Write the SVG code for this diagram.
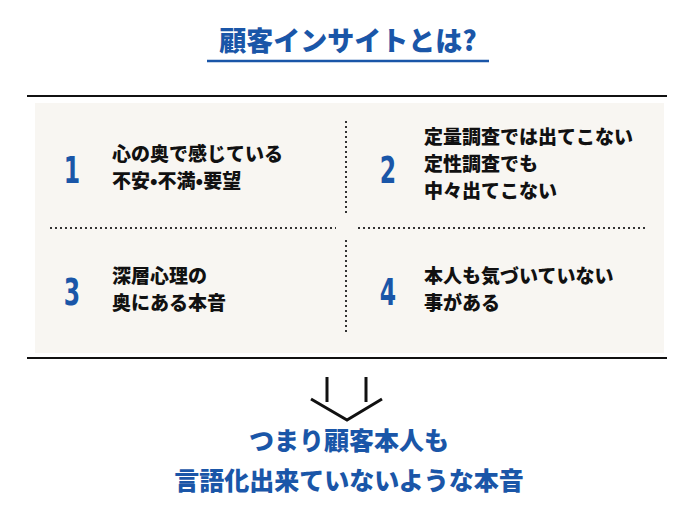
<svg xmlns="http://www.w3.org/2000/svg" width="700" height="514" viewBox="0 0 700 514">
<style>
.t{font-family:"Noto Sans CJK JP",sans-serif;font-weight:900;font-size:19px;fill:#111}
.n{font-family:"DejaVu Sans",sans-serif;font-weight:bold;font-size:38px;fill:#1a56a8;text-anchor:middle}
.b{font-family:"Noto Sans CJK JP",sans-serif;font-weight:900;fill:#1a56a8;text-anchor:middle}
.d{stroke:#333;stroke-width:2;stroke-dasharray:2 3}
</style>
<rect width="700" height="514" fill="#fff"/>
<text class="b" x="348" y="51" font-size="27">顧客インサイトとは?</text>
<line x1="207" y1="61" x2="489" y2="61" stroke="#1a56a8" stroke-width="2.5"/>
<rect x="35" y="103" width="629" height="250" fill="#f8f6f2"/>
<line x1="27" y1="96" x2="667" y2="96" stroke="#111" stroke-width="2"/>
<line x1="27" y1="358" x2="667" y2="358" stroke="#111" stroke-width="2"/>
<g id="connectors">
<line class="d" x1="346" y1="121" x2="346" y2="215"/>
<line class="d" x1="346" y1="240" x2="346" y2="334"/>
<line class="d" x1="50" y1="228" x2="336" y2="228"/>
<line class="d" x1="358" y1="228" x2="646" y2="228"/>
<g fill="none" stroke="#111" stroke-width="3">
<line x1="327" y1="377" x2="327" y2="402"/>
<line x1="366" y1="377" x2="366" y2="402"/>
<polyline points="311,399 347,420 382,399"/>
</g>
</g>
<g id="n1"><text class="n" transform="translate(72 183) scale(0.62 1)">1</text><text class="t" x="112" y="161">心の奥で感じている</text><text class="t" x="112" y="188">不安•不満•要望</text></g>
<g id="n2"><text class="n" transform="translate(388 183) scale(0.62 1)">2</text><text class="t" x="424" y="144">定量調査では出てこない</text><text class="t" x="424" y="171">定性調査でも</text><text class="t" x="424" y="198">中々出てこない</text></g>
<g id="n3"><text class="n" transform="translate(72 305) scale(0.62 1)">3</text><text class="t" x="112" y="283">深層心理の</text><text class="t" x="112" y="310">奥にある本音</text></g>
<g id="n4"><text class="n" transform="translate(388 305) scale(0.62 1)">4</text><text class="t" x="424" y="283">本人も気づいていない</text><text class="t" x="424" y="310">事がある</text></g>
<g id="bottom"><text class="b" x="349" y="450" font-size="25">つまり顧客本人も</text><text class="b" x="349" y="490" font-size="25">言語化出来ていないような本音</text></g>
</svg>
